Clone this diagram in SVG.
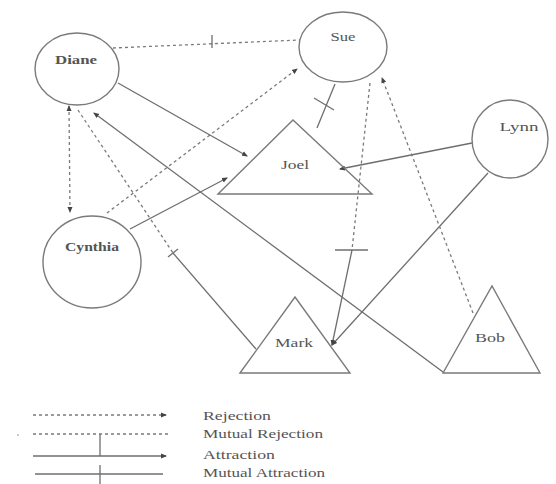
<svg xmlns="http://www.w3.org/2000/svg" width="556" height="484" viewBox="0 0 556 484">
<style>
.shape{fill:none;stroke:#7a7a7a;stroke-width:1.4}
.ln{fill:none;stroke:#6e6e6e;stroke-width:1.3}
.dash{fill:none;stroke:#7a7a7a;stroke-width:1.3;stroke-dasharray:3,3}
.lbl{font-family:"Liberation Serif","Times New Roman",serif;font-size:12px;fill:#555;text-anchor:middle}
.bold{font-weight:bold}
.leg{font-family:"Liberation Serif","Times New Roman",serif;font-size:13px;fill:#555}
</style>
<defs>
<marker id="ah" viewBox="0 0 6 6" refX="5" refY="3" markerWidth="6" markerHeight="6" markerUnits="userSpaceOnUse" orient="auto-start-reverse">
<path d="M0,0.5 L6,3 L0,5.5 Z" fill="#444"/>
</marker>
</defs>
<rect width="556" height="484" fill="#fff"/>
<g id="connectors">
<line class="dash" x1="113" y1="48" x2="300" y2="40"/>
<line class="ln" x1="212" y1="35" x2="212" y2="48"/>
<line class="ln" x1="118" y1="83" x2="247" y2="156" marker-end="url(#ah)"/>
<line class="dash" x1="107" y1="213" x2="297" y2="69" marker-end="url(#ah)"/>
<line class="ln" x1="130" y1="229" x2="227" y2="178" marker-end="url(#ah)"/>
<line class="dash" x1="69" y1="106" x2="70" y2="212" marker-start="url(#ah)" marker-end="url(#ah)"/>
<line class="dash" x1="78" y1="110" x2="173" y2="253"/>
<line class="ln" x1="168" y1="257" x2="178" y2="249"/>
<line class="ln" x1="173" y1="253" x2="256" y2="349"/>
<line class="ln" x1="443" y1="372" x2="94" y2="113" marker-end="url(#ah)"/>
<line class="ln" x1="472" y1="143" x2="340" y2="169" marker-end="url(#ah)"/>
<line class="ln" x1="488" y1="173" x2="332" y2="345" marker-end="url(#ah)"/>
<line class="ln" x1="335" y1="84" x2="317" y2="128"/>
<line class="ln" x1="314" y1="98" x2="334" y2="110"/>
<line class="dash" x1="370" y1="83" x2="352" y2="250"/>
<line class="ln" x1="335" y1="250" x2="368" y2="250"/>
<line class="ln" x1="352" y1="250" x2="332" y2="345" marker-end="url(#ah)"/>
<line class="dash" x1="473" y1="313" x2="382" y2="78" marker-end="url(#ah)"/>
</g>
<g id="diane"><ellipse class="shape" cx="77" cy="69" rx="42" ry="36"/><text class="lbl bold" x="76" y="64" textLength="42" lengthAdjust="spacingAndGlyphs">Diane</text></g>
<g id="sue"><ellipse class="shape" cx="343" cy="47" rx="44" ry="35"/><text class="lbl" x="343" y="41" textLength="25" lengthAdjust="spacingAndGlyphs">Sue</text></g>
<g id="lynn"><ellipse class="shape" cx="510" cy="139" rx="38" ry="39"/><text class="lbl" x="519" y="131" textLength="39" lengthAdjust="spacingAndGlyphs">Lynn</text></g>
<g id="cynthia"><ellipse class="shape" cx="92" cy="262" rx="49" ry="46"/><text class="lbl bold" x="92" y="251" textLength="54" lengthAdjust="spacingAndGlyphs">Cynthia</text></g>
<g id="joel"><polygon class="shape" points="218,194 293,120 372,194"/><text class="lbl" x="295" y="169" textLength="28" lengthAdjust="spacingAndGlyphs">Joel</text></g>
<g id="mark"><polygon class="shape" points="240,373 295,297 350,373"/><text class="lbl" x="294" y="347" textLength="38" lengthAdjust="spacingAndGlyphs">Mark</text></g>
<g id="bob"><polygon class="shape" points="443,373 492,286 540,373"/><text class="lbl" x="490" y="342" textLength="30" lengthAdjust="spacingAndGlyphs">Bob</text></g>
<g id="legend">
<line class="dash" x1="33" y1="415" x2="166" y2="415" marker-end="url(#ah)"/>
<line class="dash" x1="33" y1="434" x2="168" y2="434"/>
<circle cx="18" cy="435" r="0.8" fill="#888"/>
<line class="ln" x1="100" y1="434" x2="100" y2="456"/>
<line class="ln" x1="33" y1="456" x2="166" y2="456" marker-end="url(#ah)"/>
<line class="ln" x1="35" y1="474" x2="163" y2="474"/>
<line class="ln" x1="100" y1="465" x2="100" y2="484"/>
<text class="leg" x="203" y="420" textLength="68" lengthAdjust="spacingAndGlyphs">Rejection</text>
<text class="leg" x="203" y="438" textLength="120" lengthAdjust="spacingAndGlyphs">Mutual Rejection</text>
<text class="leg" x="203" y="459" textLength="72" lengthAdjust="spacingAndGlyphs">Attraction</text>
<text class="leg" x="203" y="477" textLength="122" lengthAdjust="spacingAndGlyphs">Mutual Attraction</text>
</g>
</svg>
